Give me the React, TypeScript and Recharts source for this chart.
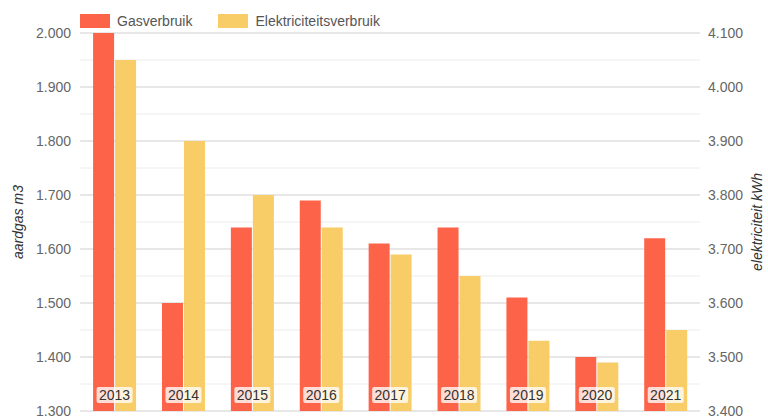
import React from "react";
import {
  BarChart,
  Bar,
  CartesianGrid,
  XAxis,
  YAxis,
  Legend,
  LabelList,
} from "recharts";

const years = ["2013", "2014", "2015", "2016", "2017", "2018", "2019", "2020", "2021"];
const gasUse = [2000, 1500, 1640, 1690, 1610, 1640, 1510, 1400, 1620];
const electricUse = [4050, 3900, 3800, 3740, 3690, 3650, 3530, 3490, 3550];

const gasTicks = [1300, 1350, 1400, 1450, 1500, 1550, 1600, 1650, 1700, 1750, 1800, 1850, 1900, 1950, 2000];
const electricTicks = [3400, 3500, 3600, 3700, 3800, 3900, 4000, 4100];

const GAS_COLOR = "#fd6349";
const ELEC_COLOR = "#f8cd68";
const FONT = "'Liberation Sans', Arial, sans-serif";
const BAR_GAP = 1;

const data = years.map((year, i) => ({
  year,
  gas: gasUse[i],
  elec: electricUse[i],
}));

// dutch thousands separator, e.g. 2.000
const fmt = (v: number) => {
  const th = Math.floor(v / 1000);
  const rest = String(v % 1000).padStart(3, "0");
  return `${th}.${rest}`;
};

// year label, drawn from the last bar so it sits on top of both bars
const YearLabel = (props: any) => {
  const { x, y, height, index } = props;
  const cx = x - BAR_GAP / 2;
  const cy = y + height - 16;
  return (
    <g>
      <rect x={cx - 18} y={cy - 8} width={36} height={16} rx={2} fill="rgba(255,255,255,0.78)" />
      <text x={cx} y={cy} dy="0.35em" textAnchor="middle" fontSize={14} fill="#333" fontFamily={FONT}>
        {years[index]}
      </text>
    </g>
  );
};

const LegendContent = () => (
  <div
    style={{
      height: 24,
      display: "flex",
      alignItems: "center",
      paddingLeft: 80,
      fontFamily: FONT,
      fontSize: 14,
      color: "#555",
    }}
  >
    <span style={{ width: 30, height: 14, background: GAS_COLOR, display: "inline-block" }} />
    <span style={{ marginLeft: 7, marginRight: 26 }}>Gasverbruik</span>
    <span style={{ width: 30, height: 14, background: ELEC_COLOR, display: "inline-block" }} />
    <span style={{ marginLeft: 7 }}>Elektriciteitsverbruik</span>
  </div>
);

const gridLine = (p: any) => (
  <line
    key={p.key}
    x1={p.x1}
    y1={p.y1}
    x2={p.x2}
    y2={p.y2}
    stroke={p.index % 2 === 0 ? "#cfcfcf" : "#ececec"}
    strokeWidth={1}
  />
);

export default function App() {
  return (
    <div style={{ position: "absolute", left: 0, top: 0, background: "#fff" }}>
      <BarChart
        width={768}
        height={417}
        data={data}
        margin={{ top: 9, right: 0, bottom: 6, left: 0 }}
        barCategoryGap="19%"
        barGap={BAR_GAP}
      >
        <CartesianGrid yAxisId="gas" vertical={false} horizontal={gridLine} />
        <Legend verticalAlign="top" align="left" content={<LegendContent />} />
        <XAxis dataKey="year" hide />
        <YAxis
          yAxisId="gas"
          orientation="left"
          width={80}
          domain={[1300, 2000]}
          ticks={gasTicks}
          interval={0}
          tickFormatter={(v: number) => (v % 100 === 0 ? fmt(v) : "")}
          axisLine={false}
          tickLine={false}
          tickMargin={3}
          tick={{ fill: "#666", fontSize: 14, fontFamily: FONT }}
          label={{
            value: "aardgas m3",
            angle: -90,
            position: "insideLeft",
            offset: 18,
            style: { textAnchor: "middle", fontStyle: "italic", fill: "#333", fontSize: 14, fontFamily: FONT },
          }}
        />
        <YAxis
          yAxisId="elec"
          orientation="right"
          width={68}
          domain={[3400, 4100]}
          ticks={electricTicks}
          interval={0}
          tickFormatter={fmt}
          axisLine={false}
          tickLine={false}
          tick={{ fill: "#666", fontSize: 14, fontFamily: FONT }}
          label={{
            value: "elektriciteit kWh",
            angle: -90,
            position: "insideRight",
            offset: 11,
            style: { textAnchor: "middle", fontStyle: "italic", fill: "#333", fontSize: 14, fontFamily: FONT },
          }}
        />
        <Bar yAxisId="gas" dataKey="gas" name="Gasverbruik" fill={GAS_COLOR} isAnimationActive={false} />
        <Bar yAxisId="elec" dataKey="elec" name="Elektriciteitsverbruik" fill={ELEC_COLOR} isAnimationActive={false}>
          <LabelList dataKey="year" content={<YearLabel />} />
        </Bar>
      </BarChart>
    </div>
  );
}
